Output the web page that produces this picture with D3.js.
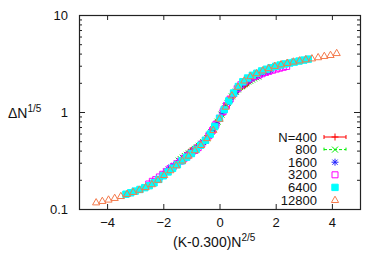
<!DOCTYPE html>
<html>
<head>
<meta charset="utf-8">
<script src="https://cdn.jsdelivr.net/npm/d3@7.9.0/dist/d3.min.js"></script>
<style>
  body { margin: 0; background: #fff; }
  svg text { font-family: "Liberation Sans", Arial, sans-serif; fill: #111; }
</style>
</head>
<body>
<svg id="chart" width="374" height="262"></svg>
<script>
// scaled variable (K-0.300)N^(2/5) and ΔN^(1/5)
const x400 = [-1.10,-1.04,-0.99,-0.93,-0.88,-0.82,-0.77,-0.71,-0.66,-0.60,-0.55,-0.49,-0.44,-0.38,-0.33,-0.27,-0.22,-0.16,-0.11,-0.05,0.00,0.05,0.11,0.16,0.22,0.27,0.33,0.38,0.44,0.49,0.55,0.60,0.66,0.71,0.77,0.82,0.88,0.93,0.99,1.04];
const y400 = [0.384,0.394,0.403,0.414,0.423,0.435,0.445,0.458,0.470,0.489,0.504,0.522,0.542,0.569,0.598,0.634,0.668,0.716,0.759,0.813,0.861,0.916,0.989,1.05,1.13,1.20,1.29,1.36,1.43,1.50,1.57,1.62,1.69,1.74,1.79,1.83,1.86,1.91,1.97,2.02];

const x800 = [-1.45,-1.38,-1.31,-1.23,-1.16,-1.09,-1.02,-0.94,-0.87,-0.80,-0.73,-0.65,-0.58,-0.51,-0.44,-0.36,-0.29,-0.22,-0.15,-0.07,0.00,0.07,0.15,0.22,0.29,0.36,0.44,0.51,0.58,0.65,0.73,0.80,0.87,0.94,1.02,1.09,1.16,1.23,1.31,1.38];
const y800 = [0.315,0.327,0.338,0.351,0.362,0.374,0.386,0.402,0.416,0.431,0.448,0.470,0.491,0.512,0.537,0.582,0.622,0.668,0.724,0.794,0.861,0.940,1.05,1.14,1.24,1.33,1.45,1.55,1.62,1.71,1.81,1.86,1.93,1.98,2.06,2.10,2.16,2.22,2.28,2.32];

const x1600 = [-1.91,-1.82,-1.72,-1.63,-1.53,-1.43,-1.34,-1.24,-1.15,-1.05,-0.96,-0.86,-0.77,-0.67,-0.57,-0.48,-0.38,-0.29,-0.19,-0.10,0.00,0.10,0.19,0.29,0.38,0.48,0.57,0.67,0.77,0.86,0.96,1.05,1.15,1.24,1.34,1.43,1.53,1.63,1.72,1.82];
const y1600 = [0.244,0.258,0.270,0.281,0.295,0.310,0.323,0.339,0.353,0.370,0.386,0.406,0.427,0.454,0.484,0.519,0.569,0.624,0.692,0.767,0.861,0.977,1.10,1.23,1.35,1.50,1.60,1.74,1.86,1.95,2.05,2.13,2.21,2.28,2.36,2.42,2.49,2.55,2.61,2.67];

const x3200 = [-2.52,-2.39,-2.27,-2.14,-2.02,-1.89,-1.76,-1.64,-1.51,-1.39,-1.26,-1.13,-1.01,-0.88,-0.76,-0.63,-0.50,-0.38,-0.25,-0.13,0.00,0.13,0.25,0.38,0.50,0.63,0.76,0.88,1.01,1.13,1.26,1.39,1.51,1.64,1.76,1.89,2.02,2.14,2.27,2.39];
const y3200 = [0.181,0.193,0.201,0.214,0.228,0.244,0.261,0.275,0.293,0.311,0.333,0.355,0.376,0.401,0.429,0.468,0.511,0.569,0.646,0.741,0.861,1.01,1.17,1.36,1.55,1.74,1.91,2.04,2.14,2.24,2.32,2.40,2.48,2.56,2.63,2.70,2.77,2.83,2.89,2.95];

const x6400 = [-3.33,-3.16,-3.00,-2.83,-2.66,-2.50,-2.33,-2.16,-2.00,-1.83,-1.67,-1.50,-1.33,-1.17,-1.00,-0.83,-0.67,-0.50,-0.33,-0.17,0.00,0.17,0.33,0.50,0.67,0.83,1.00,1.17,1.33,1.50,1.67,1.83,2.00,2.16,2.33,2.50,2.66,2.83,3.00,3.16];
const y6400 = [0.142,0.147,0.153,0.159,0.166,0.174,0.186,0.202,0.220,0.241,0.263,0.286,0.314,0.342,0.373,0.412,0.454,0.511,0.592,0.708,0.861,1.06,1.30,1.57,1.83,2.05,2.24,2.39,2.51,2.65,2.76,2.86,2.96,3.05,3.13,3.20,3.27,3.35,3.43,3.51];

const x12800 = [-4.39,-4.17,-3.95,-3.73,-3.51,-3.29,-3.07,-2.85,-2.63,-2.41,-2.19,-1.97,-1.75,-1.54,-1.32,-1.10,-0.88,-0.66,-0.44,-0.22,0.00,0.22,0.44,0.66,0.88,1.10,1.32,1.54,1.75,1.97,2.19,2.41,2.63,2.85,3.07,3.29,3.51,3.73,3.95,4.17];
const y12800 = [0.117,0.121,0.125,0.130,0.136,0.143,0.150,0.158,0.168,0.180,0.200,0.224,0.251,0.282,0.316,0.355,0.403,0.457,0.537,0.653,0.851,1.135,1.48,1.82,2.11,2.34,2.51,2.68,2.83,2.99,3.10,3.21,3.31,3.40,3.49,3.57,3.67,3.78,3.87,4.05];

const labels = ['N=400', '800', '1600', '3200', '6400', '12800'];
const xTicks = [-4, -2, 0, 2, 4];
const yTicks = [0.1, 1, 10];

const series = [
  { label: labels[0], xs: x400, ys: y400, color: '#ff0000', mark: 'plus', bars: true, dash: null },
  { label: labels[1], xs: x800, ys: y800, color: '#00ee00', mark: 'cross', bars: true, dash: '3,2' },
  { label: labels[2], xs: x1600, ys: y1600, color: '#2020ff', mark: 'star' },
  { label: labels[3], xs: x3200, ys: y3200, color: '#ff00ff', mark: 'square' },
  { label: labels[4], xs: x6400, ys: y6400, color: '#00ffff', mark: 'fsquare' },
  { label: labels[5], xs: x12800, ys: y12800, color: '#f47a4c', mark: 'triangle' }
];

const svg = d3.select('#chart');
const plotL = 79, plotR = 360, plotT = 15, plotB = 209;

const x = d3.scaleLinear().domain([-5, 5]).range([plotL, plotR]);
const y = d3.scaleLog().domain([0.1, 10]).range([plotB, plotT]);

const minorY = [];
[0.1, 1].forEach((d) => {
  for (let k = 2; k <= 9; k++) minorY.push(+(d * k).toFixed(2));
});

function styleAxis(g) {
  g.select('.domain').remove();
  g.selectAll('line').attr('stroke', '#222');
  g.selectAll('text').attr('font-size', 13).attr('fill', '#111');
}

// axes, ticks pointing inward like gnuplot
svg.append('g').attr('transform', `translate(0,${plotB})`)
  .call(d3.axisBottom(x).tickValues(xTicks).tickSize(-5).tickPadding(9).tickFormat(d3.format('d')))
  .call(styleAxis);
svg.append('g').attr('transform', `translate(0,${plotT})`)
  .call(d3.axisTop(x).tickValues(xTicks).tickSize(-5).tickFormat(''))
  .call(styleAxis);
svg.append('g').attr('transform', `translate(${plotL},0)`)
  .call(d3.axisLeft(y).tickValues(yTicks).tickSize(-6).tickPadding(11).tickFormat((d) => String(d)))
  .call(styleAxis);
svg.append('g').attr('transform', `translate(${plotL},0)`)
  .call(d3.axisLeft(y).tickValues(minorY).tickSize(-3).tickFormat(''))
  .call(styleAxis);
svg.append('g').attr('transform', `translate(${plotR},0)`)
  .call(d3.axisRight(y).tickValues(yTicks).tickSize(-6).tickFormat(''))
  .call(styleAxis);
svg.append('g').attr('transform', `translate(${plotR},0)`)
  .call(d3.axisRight(y).tickValues(minorY).tickSize(-3).tickFormat(''))
  .call(styleAxis);

svg.append('rect')
  .attr('x', plotL + 0.5).attr('y', plotT + 0.5)
  .attr('width', plotR - plotL).attr('height', plotB - plotT)
  .attr('fill', 'none').attr('stroke', '#222').attr('stroke-width', 1.2);

const markPaths = {
  plus: 'M-3.5,0H3.5M0,-3.5V3.5',
  cross: 'M-3,-3L3,3M-3,3L3,-3',
  star: 'M-3.5,0H3.5M0,-3.5V3.5M-2.6,-2.6L2.6,2.6M-2.6,2.6L2.6,-2.6',
  square: 'M-3,-3H3V3H-3Z',
  fsquare: 'M-3.2,-3.2H3.2V3.2H-3.2Z',
  triangle: 'M0,-3.8L3.6,2.5H-3.6Z'
};

function drawMark(g, s) {
  return g.append('path')
    .attr('d', markPaths[s.mark])
    .attr('fill', s.mark === 'fsquare' ? s.color : 'none')
    .attr('stroke', s.color)
    .attr('stroke-width', 1);
}

const plot = svg.append('g');
series.forEach((s) => {
  const g = plot.append('g');
  s.xs.forEach((xv, i) => {
    const pt = g.append('g').attr('transform', `translate(${x(xv)},${y(s.ys[i])})`);
    drawMark(pt, s);
  });
});

// legend
const legendX = 317, legendY = 137, rowH = 12.6;
series.forEach((s, i) => {
  const ry = legendY + i * rowH;
  svg.append('text')
    .attr('x', legendX).attr('y', ry + 4.5)
    .attr('text-anchor', 'end').attr('font-size', 13)
    .text(s.label);
  if (s.bars) {
    svg.append('path')
      .attr('d', `M324,${ry}H346M324,${ry - 2}V${ry + 2}M346,${ry - 2}V${ry + 2}`)
      .attr('stroke', s.color).attr('fill', 'none')
      .attr('stroke-dasharray', s.dash);
  }
  const pt = svg.append('g').attr('transform', `translate(335,${ry})`);
  drawMark(pt, s);
});

// axis titles
const yl = svg.append('text').attr('x', 8).attr('y', 118).attr('font-size', 14);
yl.append('tspan').text('ΔN');
yl.append('tspan').attr('font-size', 10).attr('dy', -6).text('1/5');

const xl = svg.append('text').attr('x', 173).attr('y', 247).attr('font-size', 14);
xl.append('tspan').text('(K-0.300)N');
xl.append('tspan').attr('font-size', 10).attr('dy', -6).text('2/5');
</script>
</body>
</html>
